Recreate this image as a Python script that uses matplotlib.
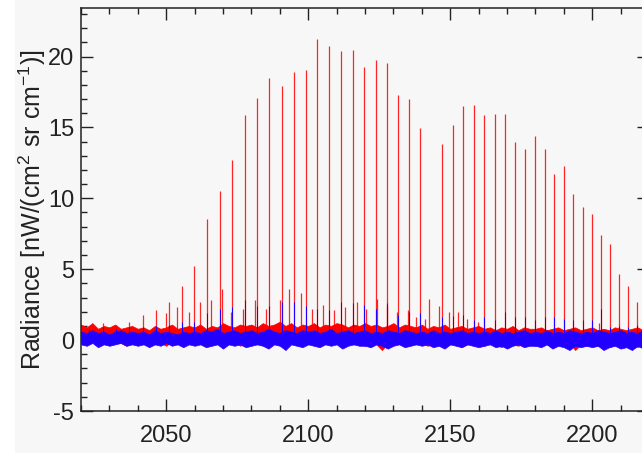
import matplotlib
matplotlib.use('Agg')
import matplotlib.pyplot as plt
from matplotlib.patches import Rectangle
from matplotlib.ticker import MultipleLocator
import numpy as np

plt.rcParams['font.family'] = ['Liberation Sans', 'DejaVu Sans']
plt.rcParams['mathtext.fontset'] = 'custom'
plt.rcParams['mathtext.rm'] = 'Liberation Sans'
plt.rcParams['mathtext.default'] = 'rm'
plt.rcParams['axes.unicode_minus'] = False

RED = '#ff0000'
BLUE = '#2200ff'
BG = '#f7f7f7'

# main band lines (CO 1-0, P and R branch): position [cm-1], peak radiance
main_pos = [2022.91, 2027.65, 2032.35, 2037.03, 2041.67, 2046.28, 2050.85, 2055.40,
            2059.91, 2064.40, 2068.85, 2073.26, 2077.65, 2082.00, 2086.32, 2090.61,
            2094.86, 2099.08, 2103.27, 2107.42, 2111.54, 2115.63, 2119.68, 2123.70,
            2127.68, 2131.63, 2135.55, 2139.43,
            2147.08, 2150.86, 2154.60, 2158.30, 2161.97, 2165.60, 2169.20, 2172.76,
            2176.28, 2179.77, 2183.22, 2186.64, 2190.02, 2193.36, 2196.66, 2199.93,
            2203.16, 2206.35, 2209.51, 2212.63, 2215.71, 2218.76]
main_red = [1.0, 1.2, 1.1, 1.3, 1.8, 2.1, 2.7, 3.8,
            5.2, 8.55, 10.5, 12.7, 15.85, 17.06, 18.47, 17.94,
            18.94, 19.06, 21.2, 20.73, 20.37, 20.47, 19.26, 19.72,
            19.51, 17.3, 17.02, 14.93,
            13.85, 15.2, 16.5, 16.6, 15.9, 15.96, 15.96, 13.97,
            13.5, 14.4, 13.5, 11.7, 12.3, 10.3, 9.4, 8.9,
            7.4, 6.8, 4.65, 3.85, 2.7, 1.5]
main_blue = [0.8, 0.9, 0.8, 0.9, 0.9, 1.0, 1.1, 1.3,
             1.3, 1.9, 2.2, 2.3, 2.8, 2.4, 2.4, 2.7,
             2.7, 2.4, 2.2, 2.1, 2.7, 2.6, 2.5, 2.2,
             2.6, 1.8, 2.0, 1.9,
             1.6, 1.7, 1.8, 1.4, 1.6, 1.4, 2.0, 1.6,
             1.6, 1.4, 1.6, 1.6, 1.5, 1.4, 1.4, 1.4,
             2.2, 0.9, 1.0, 0.9, 1.1, 0.8]

# weaker hot-band lines
hot_pos = [2049.9, 2053.8, 2058.0, 2061.8, 2065.8, 2069.7, 2072.7, 2076.9, 2081.1,
           2085.2, 2089.9, 2093.4, 2097.3, 2101.3, 2105.2, 2109.1, 2112.9, 2117.3,
           2120.5, 2124.2, 2127.9, 2131.2, 2135.1, 2137.8, 2141.1, 2142.5, 2146.0,
           2149.6, 2152.9, 2155.9, 2159.9, 2202.4]
hot_red = [1.9, 2.3, 2.0, 2.7, 2.8, 3.6, 2.0, 2.2, 2.8,
           2.2, 2.8, 3.6, 3.3, 2.2, 2.5, 2.1, 2.3, 2.7,
           2.2, 2.9, 2.4, 2.0, 2.1, 1.6, 1.5, 2.9, 2.4,
           2.0, 2.0, 1.5, 1.3, 1.2]

# noise envelopes read every 2 cm-1
env_x = np.arange(2020, 2221, 2)
red_hi = [1.1, 0.9, 1.2, 0.8, 1.0, 0.9, 1.1, 0.8, 0.9, 1.0,
          0.8, 0.9, 0.7, 1.0, 0.8, 0.9, 1.1, 0.8, 0.9, 1.0,
          0.9, 1.1, 0.8, 1.0, 0.9, 1.2, 1.0, 0.9, 1.1, 1.0,
          1.1, 0.9, 1.2, 1.0, 1.1, 1.3, 1.0, 1.2, 0.9, 1.1,
          1.0, 1.2, 0.9, 1.1, 1.0, 1.2, 1.1, 0.9, 1.1, 1.0,
          1.2, 1.0, 1.1, 0.9, 1.0, 1.2, 0.9, 1.1, 1.0, 0.9,
          1.1, 0.8, 1.0, 0.9, 1.1, 0.8, 0.9, 1.0, 0.8, 0.9,
          1.0, 0.8, 0.9, 0.7, 0.9, 0.8, 1.0, 0.7, 0.9, 0.8,
          0.8, 0.9, 0.7, 0.8, 0.9, 0.7, 0.8, 0.9, 0.7, 0.8,
          0.9, 0.7, 0.8, 0.7, 0.9, 0.8, 0.7, 0.8, 0.9, 0.7, 0.8]
red_lo = [-0.2, -0.3, -0.1, -0.4, -0.2, -0.3, -0.1, -0.2, -0.4, -0.2,
          -0.3, -0.1, -0.2, -0.3, -0.2, -0.4, -0.1, -0.3, -0.2, -0.1,
          -0.3, -0.2, -0.4, -0.1, -0.3, -0.2, -0.3, -0.1, -0.4, -0.2,
          -0.2, -0.3, -0.1, -0.4, -0.2, -0.3, -0.5, -0.2, -0.3, -0.1,
          -0.3, -0.2, -0.4, -0.2, -0.3, -0.1, -0.4, -0.2, -0.3, -0.2,
          -0.4, -0.2, -0.3, -0.7, -0.2, -0.3, -0.1, -0.4, -0.2, -0.3,
          -0.2, -0.4, -0.3, -0.2, -0.4, -0.3, -0.2, -0.5, -0.3, -0.2,
          -0.3, -0.4, -0.2, -0.3, -0.5, -0.2, -0.3, -0.4, -0.2, -0.3,
          -0.4, -0.2, -0.3, -0.5, -0.3, -0.4, -0.2, -0.7, -0.3, -0.4,
          -0.3, -0.4, -0.2, -0.5, -0.3, -0.4, -0.3, -0.2, -0.5, -0.3, -0.4]
blue_hi = [0.6, 0.5, 0.7, 0.5, 0.6, 0.4, 0.6, 0.7, 0.5, 0.6,
           0.5, 0.6, 0.4, 0.7, 0.5, 0.6, 0.5, 0.4, 0.6, 0.5,
           0.6, 0.5, 0.7, 0.6, 0.8, 0.5, 0.6, 0.7, 0.5, 0.6,
           0.7, 0.5, 0.6, 0.8, 0.6, 0.5, 0.7, 0.6, 0.5, 0.7,
           0.6, 0.7, 0.5, 0.6, 0.8, 0.5, 0.6, 0.7, 0.5, 0.6,
           0.7, 0.5, 0.6, 0.5, 0.7, 0.6, 0.5, 0.7, 0.6, 0.5,
           0.6, 0.5, 0.7, 0.5, 0.6, 0.5, 0.6, 0.7, 0.5, 0.6,
           0.5, 0.6, 0.5, 0.7, 0.5, 0.6, 0.5, 0.6, 0.7, 0.5,
           0.6, 0.5, 0.7, 0.5, 0.6, 0.5, 0.7, 0.6, 0.5, 0.6,
           0.5, 0.7, 0.6, 0.5, 0.6, 0.7, 0.5, 0.6, 0.5, 0.7, 0.6]
blue_lo = [-0.3, -0.4, -0.2, -0.5, -0.3, -0.4, -0.3, -0.2, -0.4, -0.3,
           -0.4, -0.3, -0.5, -0.3, -0.4, -0.2, -0.4, -0.3, -0.5, -0.3,
           -0.4, -0.3, -0.5, -0.4, -0.3, -0.6, -0.3, -0.4, -0.3, -0.5,
           -0.4, -0.3, -0.4, -0.6, -0.3, -0.4, -0.7, -0.3, -0.4, -0.5,
           -0.3, -0.4, -0.5, -0.3, -0.4, -0.3, -0.6, -0.4, -0.3, -0.4,
           -0.4, -0.5, -0.3, -0.4, -0.6, -0.4, -0.3, -0.5, -0.4, -0.3,
           -0.4, -0.3, -0.5, -0.4, -0.6, -0.3, -0.4, -0.5, -0.3, -0.4,
           -0.5, -0.4, -0.3, -0.5, -0.4, -0.6, -0.4, -0.3, -0.5, -0.4,
           -0.4, -0.5, -0.3, -0.6, -0.4, -0.5, -0.7, -0.4, -0.5, -0.4,
           -0.5, -0.4, -0.7, -0.5, -0.4, -0.6, -0.5, -0.7, -0.4, -0.6, -0.5]

fig = plt.figure(figsize=(6.42, 4.53), dpi=100, facecolor=BG)
fig.patches.append(Rectangle((0, 0), 15 / 642, 1, transform=fig.transFigure,
                             facecolor='white', edgecolor='none', zorder=-1))
ax = fig.add_axes([0.1262, 0.0927, 0.8847, 0.889])
ax.set_facecolor(BG)

# red spectrum
ax.fill_between(env_x, red_lo, red_hi, color=RED, lw=0.5, zorder=2)
ax.vlines(main_pos, 0.2, main_red, color=RED, lw=0.9, alpha=0.85, zorder=2)
ax.vlines(hot_pos, 0.2, hot_red, color=RED, lw=0.9, alpha=0.85, zorder=2)

# blue spectrum on top
ax.fill_between(env_x, blue_lo, blue_hi, color=BLUE, lw=0.5, zorder=3)
ax.vlines(main_pos, 0.1, main_blue, color=BLUE, lw=0.75, zorder=3)

ax.set_xlim(2020, 2220)
ax.set_ylim(-5, 23.4)
ax.xaxis.set_major_locator(MultipleLocator(50))
ax.xaxis.set_minor_locator(MultipleLocator(10))
ax.yaxis.set_major_locator(MultipleLocator(5))
ax.yaxis.set_minor_locator(MultipleLocator(1))
ax.tick_params(which='both', direction='in', top=True, right=True,
               colors='#222222', labelsize=17)
ax.tick_params(which='major', length=8.6, width=1.0)
ax.tick_params(which='minor', length=4.3, width=1.0)
ax.tick_params(axis='x', pad=10)
ax.tick_params(axis='y', pad=5)
for s in ax.spines.values():
    s.set_color('#222222')
    s.set_linewidth(1.1)

ax.set_ylabel('Radiance [nW/(cm$^{2}$ sr cm$^{-1}$)]', fontsize=18,
              color='#222222', labelpad=0)

fig.savefig('out.png', dpi=100, facecolor=BG)
